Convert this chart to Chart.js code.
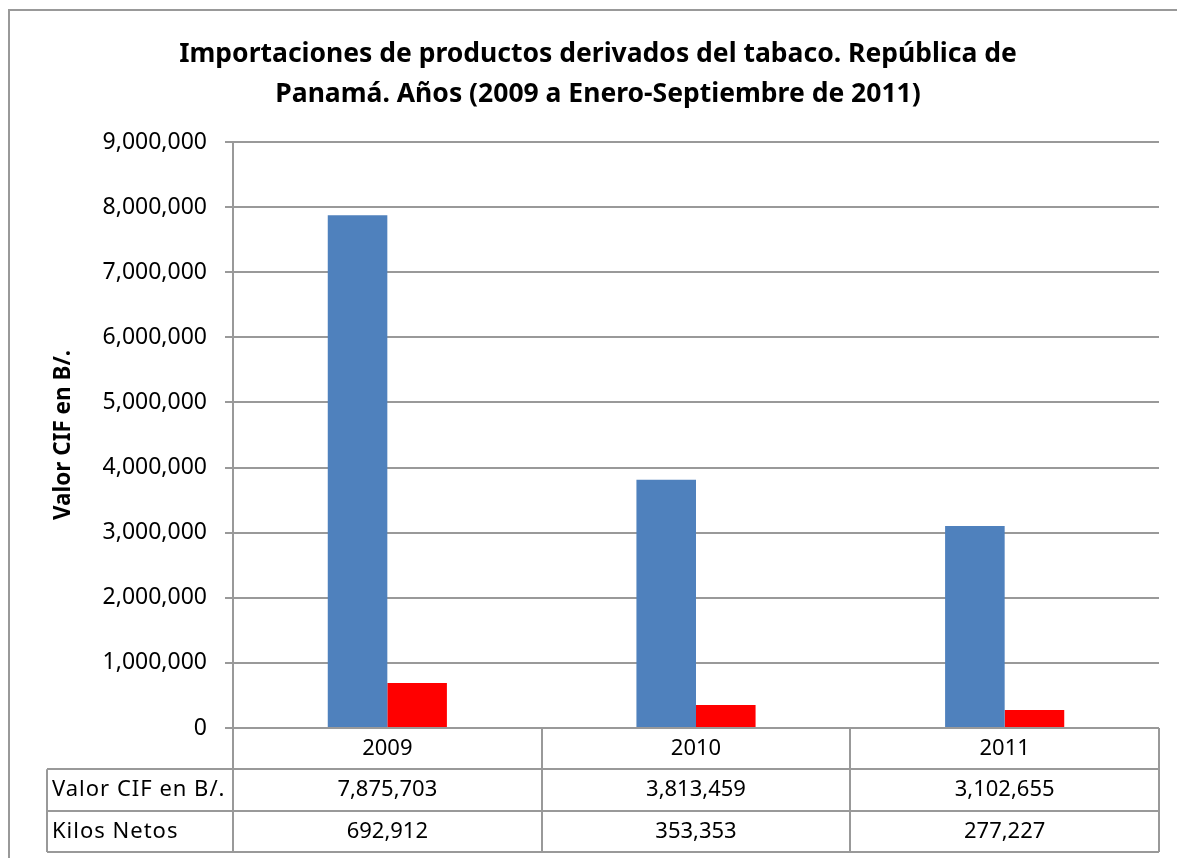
<!DOCTYPE html>
<html>
<head>
<meta charset="utf-8">
<script src="https://cdn.jsdelivr.net/npm/chart.js@4/dist/chart.umd.min.js"></script>
<style>
html,body{margin:0;padding:0;background:#fff;}
#wrap{position:relative;width:1177px;height:858px;}
</style>
</head>
<body>
<div id="wrap"><canvas id="c" width="1177" height="858"></canvas></div>
<script>
const categories = ['2009', '2010', '2011'];
const valorCIF = [7875703, 3813459, 3102655];
const kilosNetos = [692912, 353353, 277227];
const seriesNames = ['Valor CIF en B/.', 'Kilos Netos'];
const titleLines = ['Importaciones de productos derivados del tabaco. República de', 'Panamá. Años (2009 a Enero-Septiembre de 2011)'];
const yAxisTitle = 'Valor CIF en B/.';
const yMin = 0, yMax = 9000000, yStep = 1000000;

const FONT = "'Noto Sans', 'Open Sans', sans-serif";
const GRID = '#999999';
const fmt = v => Number(v).toLocaleString('en-US');

const tablePlugin = {
  id: 'dataTable',
  afterDraw(chart) {
    const ctx = chart.ctx;
    const ca = chart.chartArea;
    const xs = chart.scales.x;
    const tableLeft = 47;
    const rowH = 41.3;
    const top = ca.bottom;
    const n = categories.length;
    const cw = (ca.right - ca.left) / n;
    ctx.save();
    ctx.strokeStyle = GRID;
    ctx.lineWidth = 2;
    ctx.beginPath();
    for (let i = 0; i <= n; i++) {
      const x = Math.round(ca.left + i * cw);
      ctx.moveTo(x, top);
      ctx.lineTo(x, top + rowH * 3);
    }
    ctx.moveTo(tableLeft, top + rowH);
    ctx.lineTo(tableLeft, top + rowH * 3);
    for (let r = 1; r <= 3; r++) {
      const y = Math.round(top + rowH * r);
      ctx.moveTo(tableLeft, y);
      ctx.lineTo(ca.right, y);
    }
    ctx.stroke();

    ctx.fillStyle = '#000';
    ctx.font = "22px " + FONT;
    ctx.textBaseline = 'middle';
    ctx.textAlign = 'center';
    const rows = [valorCIF, kilosNetos];
    for (let i = 0; i < n; i++) {
      const cx = xs.getPixelForValue(i);
      ctx.fillText(categories[i], cx, top + rowH * 0.5);
      rows.forEach((arr, r) => {
        ctx.fillText(fmt(arr[i]), cx, top + rowH * (r + 1.5));
      });
    }
    ctx.textAlign = 'left';
    ctx.letterSpacing = '1px';
    seriesNames.forEach((nm, r) => {
      ctx.fillText(nm, tableLeft + 5, top + rowH * (r + 1.5));
    });
    ctx.letterSpacing = '0px';

    ctx.beginPath();
    ctx.moveTo(9, 870);
    ctx.lineTo(9, 10);
    ctx.lineTo(1177, 10);
    ctx.stroke();
    ctx.restore();
  }
};

new Chart(document.getElementById('c'), {
  type: 'bar',
  data: {
    labels: categories,
    datasets: [
      { label: seriesNames[0], data: valorCIF, backgroundColor: '#4F81BD', borderWidth: 0 },
      { label: seriesNames[1], data: kilosNetos, backgroundColor: '#FF0000', borderWidth: 0 }
    ]
  },
  options: {
    responsive: false,
    animation: false,
    devicePixelRatio: 1,
    layout: { padding: { top: 0, left: 37, right: 18, bottom: 0 } },
    datasets: { bar: { categoryPercentage: 0.386, barPercentage: 1.0 } },
    plugins: {
      legend: { display: false },
      tooltip: { enabled: false },
      title: {
        display: true,
        text: titleLines,
        color: '#000',
        font: { family: FONT, size: 26.5, weight: 'bold', lineHeight: 1.509 },
        padding: { top: 34, bottom: 28 }
      }
    },
    scales: {
      x: {
        grid: { display: false },
        border: { display: false },
        ticks: { display: false },
        afterFit(s) { s.height = 130; }
      },
      y: {
        min: yMin, max: yMax,
        ticks: {
          stepSize: yStep,
          color: '#000',
          padding: 18,
          font: { family: FONT, size: 23 },
          callback: v => fmt(v)
        },
        grid: { color: GRID, lineWidth: 2, tickLength: 8, drawTicks: true },
        border: { display: true, color: GRID, width: 2 },
        title: {
          display: true,
          text: yAxisTitle,
          color: '#000',
          font: { family: FONT, size: 22.5, weight: 'bold' },
          padding: { top: 13, bottom: 0 }
        },
        afterFit(s) { s.width = 196; }
      }
    }
  },
  plugins: [tablePlugin]
});
</script>
</body>
</html>
